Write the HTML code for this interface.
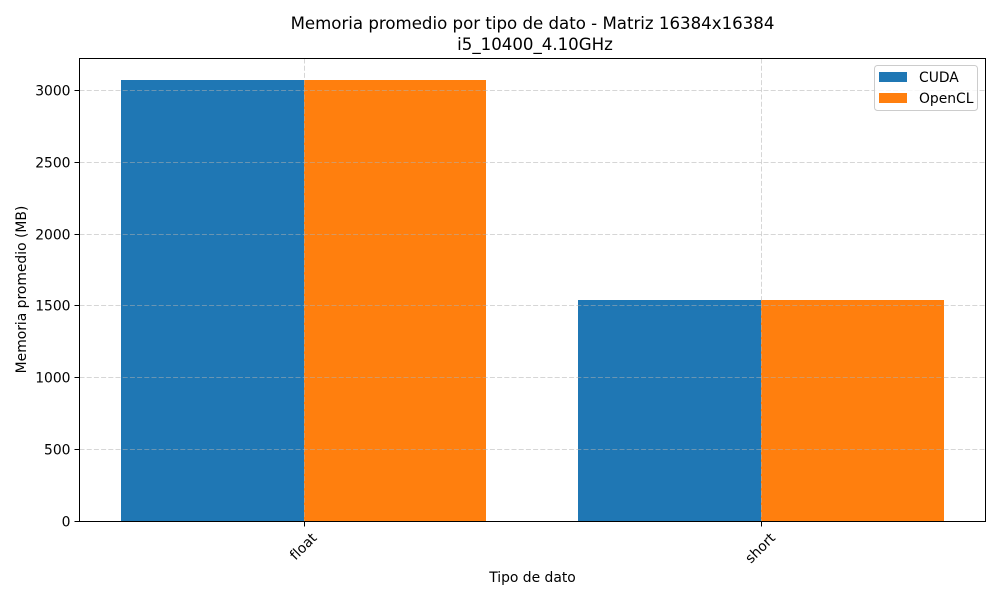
<!DOCTYPE html>
<html lang="es">
<head>
<meta charset="utf-8">
<title>Memoria promedio por tipo de dato</title>
<style>
html,body{margin:0;padding:0;background:#fff;width:1000px;height:600px;overflow:hidden}
svg{display:block;font-family:"DejaVu Sans","Liberation Sans",sans-serif;fill:#000}
text{font-size:13.89px}
.title{font-size:16.62px}
</style>
</head>
<body>
<svg id="chart" width="1000" height="600" viewBox="0 0 1000 600">
  <rect x="0" y="0" width="1000" height="600" fill="#fff"></rect>
  <text class="title" x="532.5" y="29" text-anchor="middle">Memoria promedio por tipo de dato - Matriz 16384x16384</text>
  <text class="title" x="535" y="50" text-anchor="middle">i5_10400_4.10GHz</text>
  <g id="bars"></g>
  <g id="grid"></g>
  <g id="ticks"></g>
  <rect x="79.5" y="58.5" width="906" height="463" fill="none" stroke="#000" stroke-width="1"></rect>
  <text x="532.5" y="582" text-anchor="middle">Tipo de dato</text>
  <text transform="translate(26,289.5) rotate(-90)" text-anchor="middle">Memoria promedio (MB)</text>
  <g>
    <rect x="874.5" y="65.5" width="103" height="45" rx="3" fill="#fff" fill-opacity="0.8" stroke="#ccc" stroke-width="1"></rect>
    <rect x="879" y="72" width="28" height="10" fill="#1f77b4"></rect>
    <text x="919" y="82">CUDA</text>
    <rect x="879" y="93" width="28" height="10" fill="#ff7f0e"></rect>
    <text x="919" y="103">OpenCL</text>
  </g>
</svg>
<script>
const categories = ["float", "short"];
const cudaValues = [3072, 1536];
const openclValues = [3072, 1536];
const yTickValues = [0, 500, 1000, 1500, 2000, 2500, 3000];

const NS = "http://www.w3.org/2000/svg";
const plot = {left: 79.5, right: 985.5, top: 58.5, bottom: 521};
const barWidth = 0.4;
const allValues = cudaValues.concat(openclValues);
const yMax = Math.max.apply(null, allValues) * 1.05;
const xMin = -barWidth - 0.09;
const xMax = categories.length - 1 + barWidth + 0.09;

function xScale(v) {
  return plot.left + (v - xMin) / (xMax - xMin) * (plot.right - plot.left);
}
function yScale(v) {
  return plot.bottom - v / yMax * (plot.bottom - plot.top);
}
function make(tag, attrs, parent) {
  const el = document.createElementNS(NS, tag);
  Object.keys(attrs).forEach(function (k) { el.setAttribute(k, attrs[k]); });
  parent.appendChild(el);
  return el;
}

const barsGroup = document.getElementById("bars");
const gridGroup = document.getElementById("grid");
const ticksGroup = document.getElementById("ticks");
const gridStyle = {stroke: "#b0b0b0", "stroke-width": 1, "stroke-dasharray": "5 2.2", "stroke-opacity": 0.52};

categories.forEach(function (cat, i) {
  const x0 = Math.round(xScale(i - barWidth));
  const xc = Math.round(xScale(i));
  const x1 = Math.floor(xScale(i + barWidth));
  const cudaTop = Math.floor(yScale(cudaValues[i]));
  const openclTop = Math.floor(yScale(openclValues[i]));

  const cudaBar = make("rect", {x: x0, y: cudaTop, width: xc - x0, height: plot.bottom - cudaTop, fill: "#1f77b4"}, barsGroup);
  
  

  const openclBar = make("rect", {x: xc, y: openclTop, width: x1 - xc, height: plot.bottom - openclTop, fill: "#ff7f0e"}, barsGroup);
  
  

  const gridLine = make("line", Object.assign({x1: xc + 0.5, x2: xc + 0.5, y1: plot.top, y2: plot.bottom}, gridStyle), gridGroup);
  
  

  const tick = make("line", {x1: xc + 0.5, x2: xc + 0.5, y1: plot.bottom, y2: plot.bottom + 5.5, stroke: "#000", "stroke-width": 1}, ticksGroup);
  
  

  const label = make("text", {"text-anchor": "middle", x: 0, y: 5}, ticksGroup);
  label.textContent = cat;
  
  
  const labelLength = label.getComputedTextLength();
  const labelCenterY = plot.bottom + 12.5 + (labelLength + 5) * 0.7071 / 2;
  label.setAttribute("transform", "translate(" + (xc - 1) + "," + labelCenterY + ") rotate(-45)");
});

yTickValues.forEach(function (v) {
  const y = Math.floor(yScale(v)) + 0.5;

  const gridLine = make("line", Object.assign({x1: plot.left, x2: plot.right, y1: y, y2: y}, gridStyle), gridGroup);
  
  

  const tick = make("line", {x1: plot.left - 5, x2: plot.left, y1: y, y2: y, stroke: "#000", "stroke-width": 1}, ticksGroup);
  
  

  const label = make("text", {x: plot.left - 9, y: Math.floor(yScale(v)) + 5.5, "text-anchor": "end"}, ticksGroup);
  label.textContent = String(v);
  
  
});
</script>
</body>
</html>
